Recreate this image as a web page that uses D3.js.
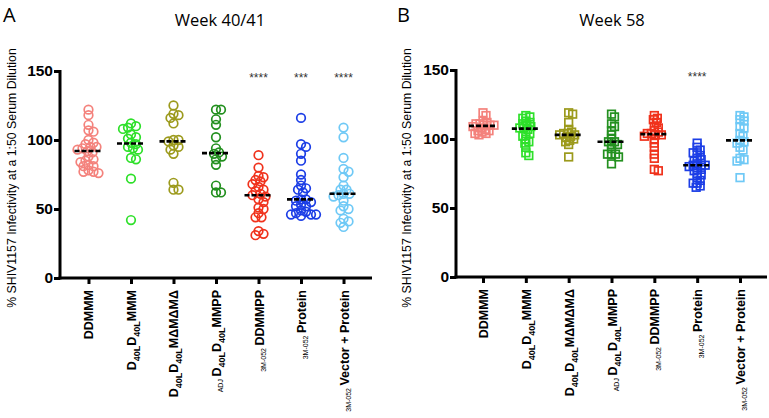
<!DOCTYPE html>
<html>
<head>
<meta charset="utf-8">
<script src="https://cdn.jsdelivr.net/npm/d3@7"></script>
<style>
  body { margin: 0; background: #fff; }
  text { font-family: "Liberation Sans", Arial, sans-serif; }
</style>
</head>
<body>
<svg id="chart" width="769" height="418"></svg>
<script>
// groups, in x-axis order
const groups = ["DDMMM", "D40LD40LMMM", "D40LD40LMdMdMd", "ADJ D40LD40LMMPP",
                "3M-052 DDMMPP", "3M-052 Protein", "3M-052 Vector + Protein"];

// small prefix written before each tick label
const groupPrefix = ["", "", "", "ADJ", "3M-052", "3M-052", "3M-052"];

// tick label pieces: [text, isSubscript]
const groupLabels = [
    [["DDMMM", false]],
    [["D", false], ["40L", true], ["D", false], ["40L", true], ["MMM", false]],
    [["D", false], ["40L", true], ["D", false], ["40L", true], ["MΔMΔMΔ", false]],
    [["D", false], ["40L", true], ["D", false], ["40L", true], ["MMPP", false]],
    [["DDMMPP", false]],
    [["Protein", false]],
    [["Vector + Protein", false]]
];

const groupColors = ["#f4827c", "#2ee02a", "#9c9a1c", "#23901f", "#f0321c", "#1c3ee6", "#6fc9f6"];

const yTicks = [0, 50, 100, 150];

// Week 40/41 values (% infectivity)
const week40 = [
    [122, 118, 111, 107, 106, 100, 98, 97, 95, 95, 94, 93, 92, 91, 88, 86, 85, 84, 82, 81, 81, 78, 77, 77, 76],
    [112, 110, 109, 108, 104, 102, 101, 98, 97, 95, 94, 93, 87, 86, 72, 42],
    [125, 119, 118, 116, 112, 100, 100, 99, 96, 95, 93, 90, 69, 64, 64],
    [122, 122, 115, 111, 102, 94, 91, 90, 88, 86, 82, 67, 62, 62],
    [89, 80, 74, 73, 71, 70, 68, 66, 64, 63, 61, 60, 59, 57, 55, 51, 50, 47, 44, 44, 34, 32, 31],
    [116, 97, 95, 90, 85, 75, 71, 67, 65, 64, 62, 57, 57, 56, 55, 53, 52, 52, 49, 48, 47, 46, 46, 46, 45],
    [109, 102, 87, 79, 77, 73, 67, 64, 64, 61, 61, 60, 59, 56, 52, 50, 49, 43, 41, 40, 37]
];

// Week 58 values
const week58 = [
    [119, 117, 113, 112, 111, 111, 110, 110, 110, 109, 108, 107, 106, 106, 105, 104, 104, 103],
    [117, 116, 115, 113, 112, 111, 110, 109, 108, 108, 107, 104, 104, 102, 100, 98, 97, 94, 90, 88],
    [119, 118, 112, 107, 105, 104, 104, 103, 103, 102, 101, 100, 99, 98, 96, 87],
    [118, 116, 111, 109, 106, 103, 100, 98, 98, 96, 96, 93, 89, 89, 89, 87, 82],
    [117, 115, 114, 112, 109, 108, 106, 105, 104, 104, 103, 103, 102, 100, 97, 94, 89, 86, 78, 77],
    [97, 94, 92, 90, 90, 88, 86, 85, 84, 82, 81, 81, 81, 80, 79, 78, 77, 75, 74, 72, 70, 68, 68, 66, 65],
    [117, 116, 114, 113, 109, 108, 104, 102, 99, 98, 97, 94, 92, 86, 85, 84, 72]
];

const stars40 = ["", "", "", "", "****", "***", "****"];
const stars58 = ["", "", "", "", "", "****", ""];

const svg = d3.select("#chart");

const panels = [
    { letter: "A", title: "Week 40/41", data: week40, stars: stars40, shape: "circle",
      left: 60, right: 372, top: 71, bottom: 278, pad: 0.67, letterX: 3, titleX: 220, ylabX: 16 },
    { letter: "B", title: "Week 58", data: week58, stars: stars58, shape: "square",
      left: 456, right: 767, top: 70, bottom: 277, pad: 0.63, letterX: 397, titleX: 612, ylabX: 411 }
];

// simple beeswarm: place points sorted by value, nudging sideways to limit overlap
function swarm(values, y, minDist) {
    const placed = [];
    const sorted = values.slice().sort((a, b) => b - a);
    sorted.forEach(v => {
        const py = y(v);
        let best = 0;
        for (let k = 0; k < 60; k++) {
            const off = (k % 2 ? 1 : -1) * Math.ceil(k / 2) * 1.0;
            const ok = placed.every(p => Math.hypot(p.dx - off, p.py - py) >= minDist);
            if (ok) { best = off; break; }
        }
        placed.push({ v: v, py: py, dx: best });
    });
    return placed;
}

panels.forEach(p => {
    const g = svg.append("g");

    const x = d3.scalePoint()
        .domain(groups)
        .range([p.left, p.right])
        .padding(p.pad);

    const y = d3.scaleLinear()
        .domain([0, 150])
        .range([p.bottom, p.top]);

    // axes
    const yAxis = d3.axisLeft(y).tickValues(yTicks).tickSize(6).tickSizeOuter(0);
    const xAxis = d3.axisBottom(x).tickSize(6).tickSizeOuter(0).tickFormat("");

    const yg = g.append("g")
        .attr("transform", `translate(${p.left},0)`)
        .call(yAxis);
    yg.select(".domain").attr("stroke-width", 3).attr("d", `M0,${p.top - 1}V${p.bottom + 1.5}`);
    yg.selectAll(".tick line").attr("stroke-width", 3);
    yg.selectAll(".tick text")
        .attr("x", -7)
        .style("font-size", "15.5px")
        .style("font-weight", "bold")
        .attr("fill", "#000");

    const xg = g.append("g")
        .attr("transform", `translate(0,${p.bottom})`)
        .call(xAxis);
    xg.select(".domain").attr("stroke-width", 3).attr("d", `M${p.left - 1.5},0H${p.right}`);
    xg.selectAll(".tick line").attr("stroke-width", 3);

    // rotated category labels with subscripts, small prefix set after measuring
    groups.forEach((grp, i) => {
        const tx = x(grp) + 5;
        const ty = p.bottom + 12;
        const lab = g.append("g")
            .attr("transform", `translate(${tx},${ty}) rotate(-90)`);
        const t = lab.append("text")
            .attr("text-anchor", "end")
            .style("font-weight", "bold")
            .style("font-size", "12.5px");
        let shift = 0;
        groupLabels[i].forEach(([txt, sub]) => {
            const target = sub ? 4 : 0;
            t.append("tspan")
                .attr("dy", target - shift)
                .style("font-size", sub ? "9px" : "12.5px")
                .text(txt);
            shift = target;
        });
        if (groupPrefix[i]) {
            const len = t.node().getComputedTextLength();
            lab.append("text")
                .attr("x", -len - 2.5)
                .attr("y", 2)
                .attr("text-anchor", "end")
                .style("font-size", "7px")
                .text(groupPrefix[i]);
        }
    });

    // points
    const r = 4.3, side = 7.6;
    p.data.forEach((vals, i) => {
        const cx = x(groups[i]);
        const pts = swarm(vals, y, p.shape === "circle" ? 4.9 : 3.6);
        const col = groupColors[i];
        if (p.shape === "circle") {
            g.selectAll(null).data(pts).enter().append("circle")
                .attr("cx", d => cx + d.dx)
                .attr("cy", d => d.py)
                .attr("r", r)
                .attr("fill", "none")
                .attr("stroke", col)
                .attr("stroke-width", 1.7);
        } else {
            g.selectAll(null).data(pts).enter().append("rect")
                .attr("x", d => cx + d.dx - side / 2)
                .attr("y", d => d.py - side / 2)
                .attr("width", side)
                .attr("height", side)
                .attr("fill", "none")
                .attr("stroke", col)
                .attr("stroke-width", 1.7);
        }
        // median
        const med = d3.median(vals);
        g.append("line")
            .attr("x1", cx - 14).attr("x2", cx + 14)
            .attr("y1", y(med)).attr("y2", y(med))
            .attr("stroke", "#000")
            .attr("stroke-width", 2.6)
            .attr("stroke-dasharray", "5,2");

        if (p.stars[i]) {
            g.append("text")
                .attr("x", cx)
                .attr("y", p.top + 11)
                .attr("text-anchor", "middle")
                .style("font-size", "12px")
                .attr("fill", "#333")
                .text(p.stars[i]);
        }
    });

    // panel letter, title, y label
    g.append("text")
        .attr("x", p.letterX).attr("y", 22)
        .style("font-family", "'Open Sans', sans-serif")
        .style("font-size", "20px")
        .text(p.letter);

    g.append("text")
        .attr("x", p.titleX).attr("y", 26)
        .attr("text-anchor", "middle")
        .style("font-family", "'Open Sans', sans-serif")
        .style("font-size", "16.5px")
        .text(p.title);

    g.append("text")
        .attr("transform", `translate(${p.ylabX},178) rotate(-90)`)
        .attr("text-anchor", "middle")
        .style("font-size", "12.3px")
        .text("% SHIV1157 Infectivity at a 1:50 Serum Dilution");
});
</script>
</body>
</html>
